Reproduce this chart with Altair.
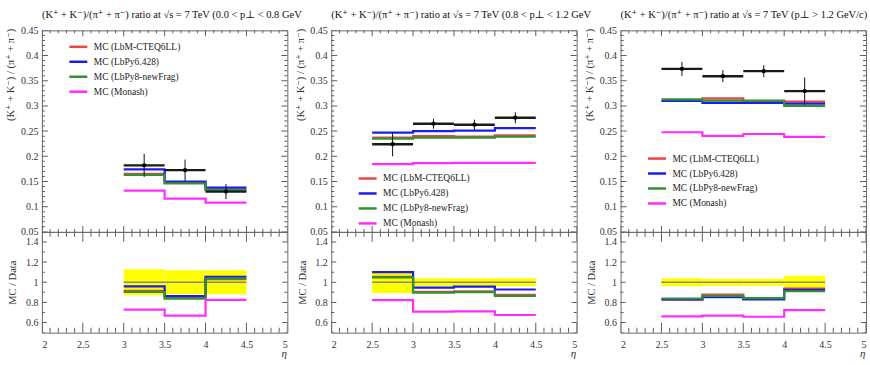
import altair as alt
import pandas as pd

# ---------------- data ----------------
MODELS = ["MC (LbM-CTEQ6LL)", "MC (LbPy6.428)", "MC (LbPy8-newFrag)", "MC (Monash)"]
COLORS = ["#f04545", "#1c1cf2", "#2e952e", "#ff2cff"]

TITLES = [
    "(K⁺ + K⁻)/(π⁺ + π⁻) ratio at √s = 7 TeV (0.0 < p⊥ < 0.8 GeV/c)",
    "(K⁺ + K⁻)/(π⁺ + π⁻) ratio at √s = 7 TeV (0.8 < p⊥ < 1.2 GeV/c)",
    "(K⁺ + K⁻)/(π⁺ + π⁻) ratio at √s = 7 TeV (p⊥ > 1.2 GeV/c)",
]

# panel 1 : 0.0 < pT < 0.8
p1_edges = [3.0, 3.5, 4.0, 4.5]
p1_data = [0.182, 0.1725, 0.130]
p1_err = [0.023, 0.021, 0.015]
p1_lbm = [0.165, 0.148, 0.134]
p1_py6 = [0.174, 0.150, 0.138]
p1_py8 = [0.163, 0.146, 0.133]
p1_mon = [0.132, 0.116, 0.108]
p1_band = [0.13, 0.12, 0.12]
p1_r_lbm = [0.915, 0.845, 1.030]
p1_r_py6 = [0.960, 0.862, 1.055]
p1_r_py8 = [0.905, 0.838, 1.035]
p1_r_mon = [0.728, 0.669, 0.826]

# panel 2 : 0.8 < pT < 1.2
p2_edges = [2.5, 3.0, 3.5, 4.0, 4.5]
p2_data = [0.224, 0.2647, 0.2627, 0.2766]
p2_err = [0.024, 0.010, 0.010, 0.011]
p2_lbm = [0.237, 0.240, 0.239, 0.2415]
p2_py6 = [0.247, 0.250, 0.251, 0.256]
p2_py8 = [0.235, 0.237, 0.237, 0.239]
p2_mon = [0.1845, 0.1865, 0.187, 0.187]
p2_band = [0.107, 0.040, 0.040, 0.040]
p2_r_lbm = [1.055, 0.905, 0.910, 0.874]
p2_r_py6 = [1.100, 0.947, 0.957, 0.928]
p2_r_py8 = [1.048, 0.897, 0.902, 0.865]
p2_r_mon = [0.823, 0.708, 0.711, 0.675]

# panel 3 : pT > 1.2
p3_edges = [2.5, 3.0, 3.5, 4.0, 4.5]
p3_data = [0.3735, 0.359, 0.369, 0.3294]
p3_err = [0.014, 0.012, 0.012, 0.027]
p3_lbm = [0.310, 0.315, 0.308, 0.3087]
p3_py6 = [0.310, 0.306, 0.306, 0.3047]
p3_py8 = [0.313, 0.3105, 0.3107, 0.300]
p3_mon = [0.2477, 0.2404, 0.2443, 0.2384]
p3_band = [0.040, 0.035, 0.035, 0.065]
p3_r_lbm = [0.828, 0.878, 0.835, 0.937]
p3_r_py6 = [0.830, 0.852, 0.830, 0.925]
p3_r_py8 = [0.839, 0.865, 0.842, 0.911]
p3_r_mon = [0.662, 0.668, 0.658, 0.724]

X_LABELS = [2, 2.5, 3, 3.5, 4, 4.5, 5]
Y_TOP_LABELS = [0.05, 0.1, 0.15, 0.2, 0.25, 0.3, 0.35, 0.4, 0.45]
Y_BOT_LABELS = [0.6, 0.8, 1, 1.2, 1.4]

# ---------------- layout / style ----------------
W, HT, HB = 246, 202, 101
FONT = "Liberation Serif, DejaVu Serif, serif"
TICK = "#5f5f5f"
FRAME = "#6a6a6a"

X_TICKS = [round(2 + 0.1 * i, 1) for i in range(31)]
YT_TICKS = [round(0.05 + 0.01 * i, 2) for i in range(41)]
YB_TICKS = [round(0.5 + 0.1 * i, 1) for i in range(11)]

XS = alt.Scale(domain=[2, 5], nice=False, zero=False)
YTS = alt.Scale(domain=[0.05, 0.45], nice=False, zero=False)
YBS = alt.Scale(domain=[0.5, 1.5], nice=False, zero=False)
CS = alt.Scale(domain=MODELS, range=COLORS)


def is_major(v, step):
    k = v / step
    return abs(k - round(k)) < 1e-6


def tick_frame(values, step, major, minor):
    # tick length is doubled: the tick is centred on the frame edge and clipped to the inside
    return pd.DataFrame({"t": values,
                         "len": [2 * (major if is_major(v, step) else minor) for v in values]})


def edge_ticks(xdf, ydf, yscale, height):
    out = []
    for yv in (0, height):
        out.append(alt.Chart(xdf).mark_tick(orient="vertical", clip=True, color=TICK,
                                            thickness=1, opacity=1).encode(
            x=alt.X("t:Q", scale=XS, axis=None), y=alt.value(yv),
            size=alt.Size("len:Q", scale=None, legend=None)))
    for xv in (0, W):
        out.append(alt.Chart(ydf).mark_tick(orient="horizontal", clip=True, color=TICK,
                                            thickness=1, opacity=1).encode(
            y=alt.Y("t:Q", scale=yscale, axis=None), x=alt.value(xv),
            size=alt.Size("len:Q", scale=None, legend=None)))
    return out


XT_TOP = tick_frame(X_TICKS, 0.5, 6, 3)
YT_TOP = tick_frame(YT_TICKS, 0.05, 6, 3)
XT_BOT = tick_frame(X_TICKS, 0.5, 10, 5)
YT_BOT = tick_frame(YB_TICKS, 0.2, 5, 3)


def steps_frame(edges, series, field):
    rows = []
    for name, vals in zip(MODELS, series):
        for e, v in zip(edges, list(vals) + [vals[-1]]):
            rows.append({"model": name, "x": e, field: v})
    return pd.DataFrame(rows)


def data_frame(edges, vals, errs, band):
    lo, hi = edges[:-1], edges[1:]
    return pd.DataFrame({
        "lo": lo, "hi": hi, "mid": [(a + b) / 2 for a, b in zip(lo, hi)],
        "val": vals, "elo": [v - e for v, e in zip(vals, errs)],
        "ehi": [v + e for v, e in zip(vals, errs)],
        "blo": [1 - b for b in band], "bhi": [1 + b for b in band], "one": [1.0] * len(lo),
    })


def anchor(xv, yv):
    return alt.Chart(pd.DataFrame({"a": [0]})).mark_rule(opacity=0, strokeWidth=0).encode(
        x=alt.value(xv), x2=alt.value(xv), y=alt.value(yv), y2=alt.value(yv))


def panel(idx, edges, vals, errs, band, mc, ratios, legend_y):
    d = data_frame(edges, vals, errs, band)
    st = steps_frame(edges, mc, "v")
    sr = steps_frame(edges, ratios, "r")

    # ---------- top panel ----------
    y_lab_top = alt.Axis(
        orient="left", values=Y_TOP_LABELS, format="~g", ticks=False, tickSize=0, domain=False,
        grid=False, labelPadding=4, labelFont=FONT, labelFontSize=10, labelColor="#333",
        title="(K⁺ + K⁻) / (π⁺ + π⁻)", titleFont=FONT, titleFontSize=10.5, titleFontWeight="normal",
        titleColor="#333", titleX=-31, titleY=-2, titleAlign="right", titleBaseline="middle",
    )
    lines = alt.Chart(st).mark_line(interpolate="step-after", strokeWidth=2.2).encode(
        x=alt.X("x:Q", scale=XS, axis=None),
        y=alt.Y("v:Q", scale=YTS, axis=y_lab_top),
        color=alt.Color("model:N", scale=CS, sort=MODELS, legend=alt.Legend(
            orient="none", legendX=30, legendY=legend_y, title=None, padding=0,
            symbolType="M-1.8,0H1.8", symbolSize=100, symbolStrokeWidth=2.5,
            labelFont=FONT, labelFontSize=9.5, labelColor="#222", labelOffset=9,
            rowPadding=3)),
    )
    bars = alt.Chart(d).mark_rule(color="#1a1a1a", strokeWidth=2.4).encode(
        x=alt.X("lo:Q", scale=XS, axis=None), x2="hi:Q",
        y=alt.Y("val:Q", scale=YTS, axis=None),
    )
    errb = alt.Chart(d).mark_rule(color="#111", strokeWidth=1).encode(
        x=alt.X("mid:Q", scale=XS, axis=None),
        y=alt.Y("elo:Q", scale=YTS, axis=None), y2="ehi:Q",
    )
    pts = alt.Chart(d).mark_circle(color="#000", size=18, opacity=1).encode(
        x=alt.X("mid:Q", scale=XS, axis=None),
        y=alt.Y("val:Q", scale=YTS, axis=None),
    )
    title = alt.Chart(pd.DataFrame({"t": [TITLES[idx]]})).mark_text(
        align="left", baseline="middle", font=FONT, fontSize=10.5, color="#111",
        limit=262, ellipsis="\u200b").encode(x=alt.value(0), y=alt.value(-15), text="t:N")
    top_layers = [lines, bars, errb, pts, title] + edge_ticks(XT_TOP, YT_TOP, YTS, HT)
    if idx == 0:
        top_layers.append(anchor(-41, -29))
    top = alt.layer(*top_layers).resolve_axis(x="independent", y="independent").properties(
        width=W, height=HT)

    # ---------- ratio panel ----------
    x_lab = alt.Axis(
        orient="bottom", values=X_LABELS, format="~g", ticks=False, tickSize=0, domain=False,
        grid=False, labelPadding=7, labelFont=FONT, labelFontSize=10, labelColor="#333",
        title="η", titleFont=FONT, titleFontSize=11, titleFontStyle="italic",
        titleFontWeight="normal", titleColor="#333", titleX=W - 1, titleY=21,
        titleAlign="right", titleBaseline="middle",
    )
    y_lab_bot = alt.Axis(
        orient="left", values=Y_BOT_LABELS, format="~g", ticks=False, tickSize=0, domain=False,
        grid=False, labelPadding=4, labelFont=FONT, labelFontSize=10, labelColor="#333",
        title="MC / Data", titleFont=FONT, titleFontSize=10.5, titleFontWeight="normal",
        titleColor="#333", titleX=-29, titleY=HB / 2, titleAlign="center", titleBaseline="middle",
    )
    band_m = alt.Chart(d).mark_rect(color="#ffff00").encode(
        x=alt.X("lo:Q", scale=XS, axis=x_lab), x2="hi:Q",
        y=alt.Y("blo:Q", scale=YBS, axis=y_lab_bot), y2="bhi:Q",
    )
    unity = alt.Chart(d).mark_rule(color="#8a8a7a", strokeWidth=1.5).encode(
        x=alt.X("lo:Q", scale=XS, axis=None), x2="hi:Q",
        y=alt.Y("one:Q", scale=YBS, axis=None),
    )
    rlines = alt.Chart(sr).mark_line(interpolate="step-after", strokeWidth=2.2).encode(
        x=alt.X("x:Q", scale=XS, axis=None),
        y=alt.Y("r:Q", scale=YBS, axis=None),
        color=alt.Color("model:N", scale=CS, sort=MODELS, legend=None),
    )
    bot_layers = [band_m, unity, rlines] + edge_ticks(XT_BOT, YT_BOT, YBS, HB)
    if idx == 2:
        bot_layers.append(anchor(W + 3, HB + 27))
    bot = alt.layer(*bot_layers).resolve_axis(x="independent", y="independent").properties(
        width=W, height=HB)

    return top, bot


t1, b1 = panel(0, p1_edges, p1_data, p1_err, p1_band,
               [p1_lbm, p1_py6, p1_py8, p1_mon], [p1_r_lbm, p1_r_py6, p1_r_py8, p1_r_mon], 10)
t2, b2 = panel(1, p2_edges, p2_data, p2_err, p2_band,
               [p2_lbm, p2_py6, p2_py8, p2_mon], [p2_r_lbm, p2_r_py6, p2_r_py8, p2_r_mon], 142)
t3, b3 = panel(2, p3_edges, p3_data, p3_err, p3_band,
               [p3_lbm, p3_py6, p3_py8, p3_mon], [p3_r_lbm, p3_r_py6, p3_r_py8, p3_r_mon], 122)

chart = alt.concat(t1, t2, t3, b1, b2, b3, columns=3, spacing={"row": 0, "column": 44},
                   bounds="flush").resolve_scale(color="independent").properties(
    padding=0, background="white").configure_view(stroke=FRAME, strokeWidth=1)

chart.save("out.html", embed_options={"renderer": "svg", "actions": False})
